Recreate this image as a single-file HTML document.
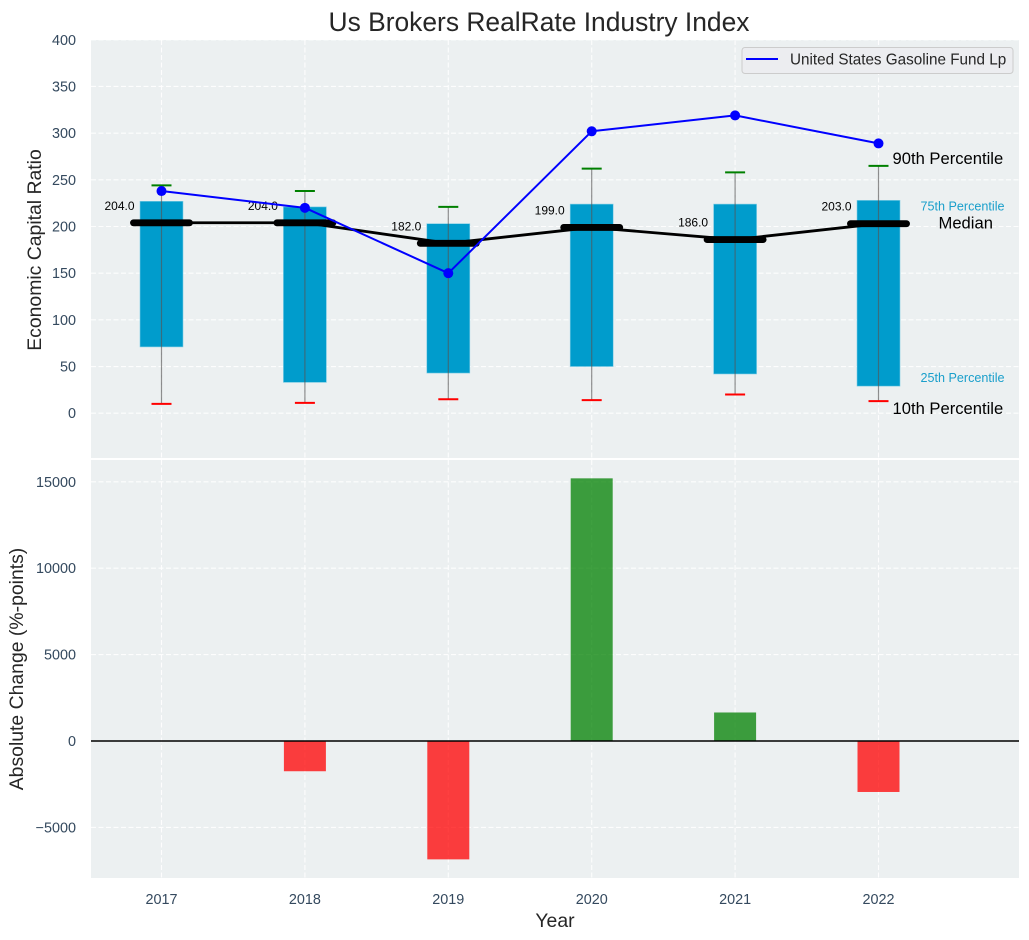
<!DOCTYPE html>
<html lang="en">
<head>
<meta charset="utf-8">
<title>Us Brokers RealRate Industry Index</title>
<style>
html,body{margin:0;padding:0;background:#fff;width:1029px;height:940px;overflow:hidden}
svg{display:block}
text{font-family:"Liberation Sans",Arial,sans-serif}
</style>
</head>
<body>
<svg id="chart" xmlns="http://www.w3.org/2000/svg" width="1029" height="940" viewBox="0 0 1029 940"></svg>
<script>
const years = [2017, 2018, 2019, 2020, 2021, 2022];
const p10 = [10, 11, 15, 14, 20, 13];
const p25 = [71, 33, 43, 50, 42, 29];
const medians = [204, 204, 182, 199, 186, 203];
const p75 = [227, 221, 203, 224, 224, 228];
const p90 = [244, 238, 221, 262, 258, 265];
const fundValues = [238, 220, 150, 302, 319, 289];
const absoluteChange = [0, -1750, -6850, 15200, 1650, -2950];
const topTicks = [0, 50, 100, 150, 200, 250, 300, 350, 400];
const bottomTicks = [-5000, 0, 5000, 10000, 15000];

const NS = 'http://www.w3.org/2000/svg';
const svg = document.getElementById('chart');
const plotLeft = 91, plotRight = 1019;
const topPanelTop = 40, topPanelBottom = 458;
const bottomPanelTop = 460, bottomPanelBottom = 878;

function xPos(year) { return 161.5 + (year - 2017) * 143.4; }
function yTop(v) { return 413.2 - v * 0.9335; }
function yBottom(v) { return 741 - v * 0.01728; }
function make(tag, attrs, parent) {
  const el = document.createElementNS(NS, tag);
  for (const k in attrs) el.setAttribute(k, attrs[k]);
  (parent || svg).appendChild(el);
  return el;
}
function label(str, attrs, parent) {
  const el = make('text', attrs, parent);
  el.textContent = str;
  return el;
}
const GRID = {stroke: '#ffffff', 'stroke-width': 1.1, 'stroke-dasharray': '5 2.5', opacity: 0.9};
const TICK = '#34495e';

/* panels */
const topBg = make('rect', {x: plotLeft, y: topPanelTop, width: plotRight - plotLeft, height: topPanelBottom - topPanelTop, fill: '#ecf0f1'});


const botBg = make('rect', {x: plotLeft, y: bottomPanelTop, width: plotRight - plotLeft, height: bottomPanelBottom - bottomPanelTop, fill: '#ecf0f1'});



/* grid and ticks */
topTicks.forEach(function (t) {
  const y = yTop(t);
  const g = make('line', Object.assign({x1: plotLeft, x2: plotRight, y1: y, y2: y}, GRID));
  
  
  const l = label(String(t), {x: 76, y: y + 5, 'text-anchor': 'end', 'font-size': 14.4, fill: TICK});
  
  
});
bottomTicks.forEach(function (t) {
  const y = yBottom(t);
  const g = make('line', Object.assign({x1: plotLeft, x2: plotRight, y1: y, y2: y}, GRID));
  
  
  const l = label(String(t).replace('-', '\u2212'), {x: 76, y: y + 5, 'text-anchor': 'end', 'font-size': 14.4, fill: TICK});
  
  
});
years.forEach(function (yr) {
  const x = xPos(yr);
  const g1 = make('line', Object.assign({x1: x, x2: x, y1: topPanelTop, y2: topPanelBottom}, GRID));
  
  
  const g2 = make('line', Object.assign({x1: x, x2: x, y1: bottomPanelTop, y2: bottomPanelBottom}, GRID));
  
  
  const l = label(String(yr), {x: x, y: 904, 'text-anchor': 'middle', 'font-size': 14.4, fill: TICK});
  
  
});

/* interquartile bars */
const BOX_W = 43;
years.forEach(function (yr, i) {
  const x = xPos(yr);
  const b = make('rect', {x: x - BOX_W / 2, y: yTop(p75[i]), width: BOX_W, height: yTop(p25[i]) - yTop(p75[i]), fill: '#009ccc', stroke: '#7fcde5', 'stroke-width': 0.6});
  
  
});

/* whiskers */
years.forEach(function (yr, i) {
  const x = xPos(yr);
  const w = make('line', {x1: x, x2: x, y1: yTop(p90[i]), y2: yTop(p10[i]), stroke: '#555555', 'stroke-width': 1.2, opacity: 0.65});
  
  
  const cu = make('line', {x1: x - 10, x2: x + 10, y1: yTop(p90[i]), y2: yTop(p90[i]), stroke: '#008000', 'stroke-width': 2});
  
  
  const cl = make('line', {x1: x - 10, x2: x + 10, y1: yTop(p10[i]), y2: yTop(p10[i]), stroke: '#ff0000', 'stroke-width': 2});
  
  
});

/* median trend and thick markers */
const medianPts = years.map(function (yr, i) { return xPos(yr) + ',' + yTop(medians[i]); }).join(' ');
const medLine = make('polyline', {points: medianPts, fill: 'none', stroke: '#000000', 'stroke-width': 2.8, 'stroke-linejoin': 'round'});


years.forEach(function (yr, i) {
  const x = xPos(yr);
  const m = make('line', {x1: x - 28, x2: x + 28, y1: yTop(medians[i]), y2: yTop(medians[i]), stroke: '#000000', 'stroke-width': 6.9, 'stroke-linecap': 'round'});
  
  
  const t = label(medians[i].toFixed(1), {x: x - 27, y: yTop(medians[i]) - 13, 'text-anchor': 'end', 'font-size': 12, fill: '#000000'});
  
  
});

/* fund line */
const fundPts = years.map(function (yr, i) { return xPos(yr) + ',' + yTop(fundValues[i]); }).join(' ');
const fundLine = make('polyline', {points: fundPts, fill: 'none', stroke: '#0000ff', 'stroke-width': 2, 'stroke-linejoin': 'round'});


years.forEach(function (yr, i) {
  const p = make('circle', {cx: xPos(yr), cy: yTop(fundValues[i]), r: 5, fill: '#0000ff'});
  
  
});

/* percentile annotations anchored to the final year */
const last = years.length - 1;
const lastX = xPos(years[last]);
const a90 = label('90th Percentile', {x: lastX + 14, y: yTop(p90[last]) - 2, 'font-size': 16.6, fill: '#000000'});


const a75 = label('75th Percentile', {x: lastX + 42, y: yTop(p75[last]) + 10, 'font-size': 12.6, fill: '#1a9fcb'});


const aMed = label('Median', {x: lastX + 60, y: yTop(medians[last]) + 5, 'font-size': 16.6, fill: '#000000'});


const a25 = label('25th Percentile', {x: lastX + 42, y: yTop(p25[last]) - 4, 'font-size': 12.6, fill: '#1a9fcb'});


const a10 = label('10th Percentile', {x: lastX + 14, y: yTop(p10[last]) + 13, 'font-size': 16.6, fill: '#000000'});



/* legend */
const lg = make('g', {});


const lgBox = make('rect', {x: 742, y: 47.5, width: 271, height: 26, rx: 3, fill: '#ecedf0', stroke: '#cccccc', 'stroke-width': 1}, lg);


const lgLine = make('line', {x1: 746, x2: 778, y1: 59, y2: 59, stroke: '#0000ff', 'stroke-width': 2}, lg);


const lgText = label('United States Gasoline Fund Lp', {x: 790, y: 64.5, 'font-size': 15.25, fill: '#262626'}, lg);



/* absolute change bars */
const CH_W = 42;
years.forEach(function (yr, i) {
  const v = absoluteChange[i];
  if (v === 0) return;
  const y0 = yBottom(0), y1 = yBottom(v);
  const isUp = v > 0;
  const b = make('rect', {
    x: xPos(yr) - CH_W / 2,
    y: Math.min(y0, y1),
    width: CH_W,
    height: Math.abs(y1 - y0),
    fill: isUp ? '#008000' : '#ff0000',
    'fill-opacity': 0.75
  });
  
  
});
const zero = make('line', {x1: plotLeft, x2: plotRight, y1: yBottom(0), y2: yBottom(0), stroke: '#000000', 'stroke-width': 1.4});



/* titles */
const title = label('Us Brokers RealRate Industry Index', {x: 539, y: 31, 'text-anchor': 'middle', 'font-size': 26.4, fill: '#262626'});


const yt = label('Economic Capital Ratio', {x: 0, y: 0, transform: 'translate(41 250) rotate(-90)', 'text-anchor': 'middle', 'font-size': 19.4, fill: '#262626'});


const yb = label('Absolute Change (%-points)', {x: 0, y: 0, transform: 'translate(23 669) rotate(-90)', 'text-anchor': 'middle', 'font-size': 19.4, fill: '#262626'});


const xt = label('Year', {x: 555, y: 927, 'text-anchor': 'middle', 'font-size': 19.4, fill: '#262626'});


</script>
</body>
</html>
